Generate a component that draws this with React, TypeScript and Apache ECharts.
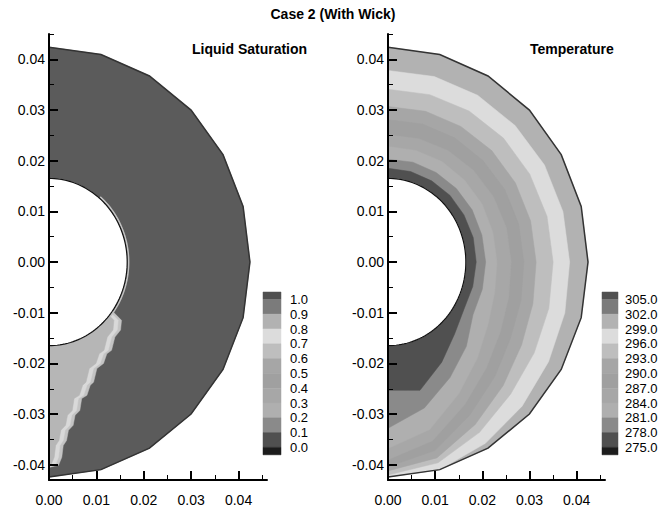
import React, { useEffect, useRef } from 'react';
import * as echarts from 'echarts';

// ---------- data ----------
// polar sample angles, degrees clockwise from +y axis (0 = top, 180 = bottom)
const ANGLES = [0, 15, 30, 45, 60, 75, 90, 105, 120, 135, 150, 165, 180];
const R_OUT = 0.0424;
const R_IN = 0.0165;

// temperature contour radii (m) at ANGLES, levels 278..299
const tempContourLevels = [278, 281, 284, 287, 290, 293, 296, 299];
const T278 = [0.0185, 0.0185, 0.0185, 0.0186, 0.0186, 0.0187, 0.0187, 0.0186, 0.0186, 0.02, 0.0228, 0.0262, 0.0253];
const T281 = [0.0203, 0.0204, 0.0204, 0.0205, 0.0206, 0.0206, 0.0207, 0.0207, 0.0208, 0.0235, 0.0263, 0.0298, 0.0328];
const T284 = [0.0228, 0.0228, 0.0229, 0.0229, 0.023, 0.023, 0.0231, 0.0234, 0.0245, 0.0268, 0.03, 0.0342, 0.0368];
const T287 = [0.0251, 0.0252, 0.0254, 0.0256, 0.0258, 0.026, 0.0261, 0.0265, 0.0275, 0.0295, 0.0325, 0.0365, 0.039];
const T290 = [0.0281, 0.0282, 0.0283, 0.0284, 0.0286, 0.0287, 0.0288, 0.0292, 0.03, 0.032, 0.0348, 0.0385, 0.0404];
const T293 = [0.0307, 0.0308, 0.0309, 0.0311, 0.0312, 0.0313, 0.0314, 0.0318, 0.0327, 0.0345, 0.037, 0.04, 0.0412];
const T296 = [0.0341, 0.0342, 0.0344, 0.0346, 0.0347, 0.0349, 0.035, 0.0353, 0.0358, 0.0368, 0.0388, 0.041, 0.042];
const T299 = [0.0378, 0.0379, 0.038, 0.0381, 0.0383, 0.0384, 0.0385, 0.0388, 0.0393, 0.0402, 0.0413, 0.0424, 0.0424];
const tempContours = [T278, T281, T284, T287, T290, T293, T296, T299];

// legend levels
const tempLevels = [305, 302, 299, 296, 293, 290, 287, 284, 281, 278, 275];
const satLevels = [1.0, 0.9, 0.8, 0.7, 0.6, 0.5, 0.4, 0.3, 0.2, 0.1, 0.0];
// legend colours, top (above max) to bottom (below min)
const legendColors = ['#505050', '#7b7b7b', '#b2b2b2', '#dcdcdc', '#bebebe', '#a6a6a6', '#a0a0a0', '#a7a7a7', '#afafaf', '#8a8a8a', '#505050', '#1c1c1c'];

// liquid saturation: drying front (x, y) from inner wall down to the symmetry line
const satFront: [number, number][] = [
  [0.0134, -0.0097], [0.0153, -0.0115], [0.0151, -0.0134], [0.0139, -0.0148],
  [0.0132, -0.0174], [0.0122, -0.0181], [0.0115, -0.02], [0.0101, -0.021],
  [0.0094, -0.0237], [0.0087, -0.0243], [0.008, -0.0263], [0.0069, -0.0269],
  [0.0065, -0.0293], [0.0055, -0.0302], [0.0051, -0.0322], [0.0041, -0.0332],
  [0.0037, -0.0352], [0.003, -0.0362], [0.0027, -0.0385], [0.002, -0.0401],
  [0.0, -0.0405],
];
const satFrontShift = [0, 0.0007, 0.0016];
const satFrontColors = ['#c4c4c4', '#d9d9d9', '#b6b6b6'];
const satFill = '#5b5b5b';
const satFilm = { r: 0.0168, from: 40, to: 130 };

const yMajor = [-0.04, -0.03, -0.02, -0.01, 0, 0.01, 0.02, 0.03, 0.04];
const yMinor = [-0.035, -0.025, -0.015, -0.005, 0.005, 0.015, 0.025, 0.035, 0.045];
const xMajor = [0, 0.01, 0.02, 0.03, 0.04];
const xMinor = [0.005, 0.015, 0.025, 0.035, 0.045];

// ---------- helpers ----------
const FONT = '"Liberation Sans", Arial, Helvetica, sans-serif';
const polar = (r: number, deg: number): [number, number] => {
  const a = (deg * Math.PI) / 180;
  return [r * Math.sin(a), r * Math.cos(a)];
};
const arcPts = (r: number, from: number, to: number) => {
  const pts: [number, number][] = [];
  for (let a = from; a <= to + 1e-9; a += 2) pts.push(polar(r, a));
  return pts;
};

type Layer = { kind: 'polygon' | 'polyline'; pts: [number, number][]; fill?: string; stroke?: string; lw?: number };

function customSeries(layers: Layer[], axisIndex: number) {
  return {
    type: 'custom',
    xAxisIndex: axisIndex,
    yAxisIndex: axisIndex,
    silent: true,
    clip: false,
    z: 2,
    data: layers.map(() => [0, 0]),
    renderItem: (params: any, api: any) => {
      const L = layers[params.dataIndex];
      const points = L.pts.map((p) => api.coord(p));
      if (L.kind === 'polygon') {
        return { type: 'polygon', shape: { points }, style: { fill: L.fill, stroke: L.fill, lineWidth: 0.5 } };
      }
      return { type: 'polyline', shape: { points }, style: { fill: 'none', stroke: L.stroke, lineWidth: L.lw || 1 } };
    },
  };
}

function axesFor(grid: number, isX: boolean, min: number, max: number) {
  const major = isX ? xMajor : yMajor;
  const minor = isX ? xMinor : yMinor;
  const base = {
    type: 'value',
    gridIndex: grid,
    min,
    max,
    z: 10,
    position: isX ? 'bottom' : 'left',
    splitLine: { show: false },
  };
  return [
    {
      ...base,
      axisLine: { show: true, onZero: false, lineStyle: { color: '#000', width: 2 } },
      axisTick: { show: true, inside: true, length: 9, customValues: major, lineStyle: { color: '#000', width: 2 } },
      axisLabel: {
        show: true,
        customValues: major,
        formatter: (v: number) => v.toFixed(2),
        margin: isX ? 13 : 4,
        fontSize: 14,
        fontFamily: FONT,
        color: '#000',
      },
    },
    {
      ...base,
      axisLine: { show: false, onZero: false },
      axisTick: { show: true, inside: true, length: 5, customValues: minor, lineStyle: { color: '#000', width: 1 } },
      axisLabel: { show: false },
    },
  ];
}

function legend(x: number, w: number, labelX: number, labels: string[]) {
  const top = 292;
  const step = 14.8;
  const els: any[] = [];
  const n = legendColors.length;
  legendColors.forEach((c, i) => {
    const y0 = i === 0 ? top : top + step / 2 + (i - 1) * step;
    const h = i === 0 || i === n - 1 ? step / 2 : step;
    els.push({ type: 'rect', shape: { x, y: y0, width: w, height: h }, style: { fill: c, stroke: c, lineWidth: 0.5 } });
  });
  labels.forEach((t, i) => {
    els.push({
      type: 'text',
      x: labelX,
      y: top + step / 2 + i * step,
      style: { text: t, fontSize: 13, fontFamily: FONT, fill: '#000', align: 'left', verticalAlign: 'middle' },
    });
  });
  return els;
}

export default function App() {
  const ref = useRef<HTMLDivElement>(null);
  useEffect(() => {
    if (!ref.current) return;
    const chart = echarts.init(ref.current, undefined, { renderer: 'svg' });

    const outerPts = ANGLES.map((a) => polar(R_OUT, a));
    const holePts = arcPts(R_IN, 0, 180);

    // left: liquid saturation
    const satLayers: Layer[] = [{ kind: 'polygon', pts: outerPts, fill: satFill }];
    satFrontShift.forEach((s, k) => {
      const shifted = satFront.map(([x, y]) => [Math.max(0, x - s), y] as [number, number]);
      satLayers.push({ kind: 'polygon', pts: [[0, -0.01], ...shifted.slice().reverse()], fill: satFrontColors[k] });
    });
    satLayers.push({ kind: 'polyline', pts: arcPts(satFilm.r, satFilm.from, satFilm.to), stroke: '#c2c2c2', lw: 1.6 });
    satLayers.push({ kind: 'polygon', pts: holePts, fill: '#ffffff' });
    satLayers.push({ kind: 'polyline', pts: holePts, stroke: '#111', lw: 1.2 });
    satLayers.push({ kind: 'polyline', pts: outerPts, stroke: '#333', lw: 1.5 });

    // right: temperature (band colour inside each contour = band below that level)
    const bandColor = (level: number) => {
      const idx = tempLevels.findIndex((l) => l < level);
      return legendColors[idx];
    };
    const tempLayers: Layer[] = [{ kind: 'polygon', pts: outerPts, fill: bandColor(302) }];
    for (let k = tempContours.length - 1; k >= 0; k--) {
      const r = tempContours[k];
      tempLayers.push({ kind: 'polygon', pts: ANGLES.map((a, i) => polar(r[i], a)), fill: bandColor(tempContourLevels[k]) });
    }
    tempLayers.push({ kind: 'polygon', pts: holePts, fill: '#ffffff' });
    tempLayers.push({ kind: 'polyline', pts: holePts, stroke: '#111', lw: 1.2 });
    tempLayers.push({ kind: 'polyline', pts: outerPts, stroke: '#333', lw: 1.5 });

    const xMin = 0, xMax = 0.046, yMin = -0.043, yMax = 0.045;

    chart.setOption({
      animation: false,
      backgroundColor: '#ffffff',
      grid: [
        { left: 49, top: 34, width: 218, height: 446 },
        { left: 388, top: 34, width: 217, height: 446 },
      ],
      xAxis: [...axesFor(0, true, xMin, xMax), ...axesFor(1, true, xMin, xMax)],
      yAxis: [...axesFor(0, false, yMin, yMax), ...axesFor(1, false, yMin, yMax)],
      series: [customSeries(satLayers, 0), customSeries(tempLayers, 2)],
      graphic: [
        {
          type: 'text', x: 333, y: 14,
          style: { text: 'Case 2 (With Wick)', fontSize: 14, fontWeight: 'bold', fontFamily: FONT, fill: '#000', align: 'center', verticalAlign: 'middle' },
        },
        {
          type: 'text', x: 192, y: 49,
          style: { text: 'Liquid Saturation', fontSize: 14, fontWeight: 'bold', fontFamily: FONT, fill: '#000', align: 'left', verticalAlign: 'middle' },
        },
        {
          type: 'text', x: 530, y: 49,
          style: { text: 'Temperature', fontSize: 14, fontWeight: 'bold', fontFamily: FONT, fill: '#000', align: 'left', verticalAlign: 'middle' },
        },
        ...legend(263, 18, 290, satLevels.map((v) => v.toFixed(1))),
        ...legend(602, 16, 625, tempLevels.map((v) => v.toFixed(1))),
      ],
    });
    return () => chart.dispose();
  }, []);
  return <div ref={ref} style={{ position: 'fixed', left: 0, top: 0, width: 659, height: 510, background: '#fff' }} />;
}
